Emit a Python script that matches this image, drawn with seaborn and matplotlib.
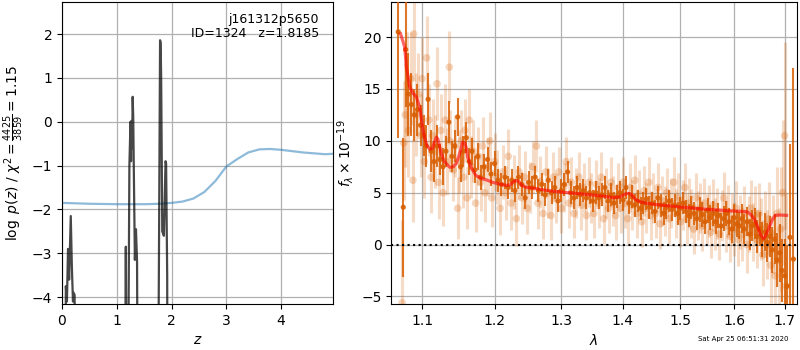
import numpy as np
import pandas as pd
import matplotlib
matplotlib.use("Agg")
import matplotlib.pyplot as plt
import matplotlib.ticker as mticker
import seaborn as sns

# ---------------- data: left panel ----------------
z_grid = [0.00, 0.06, 0.07, 0.09, 0.11, 0.13, 0.16, 0.18, 0.20, 0.21, 0.23, 0.25,
          1.14, 1.165, 1.19, 1.23, 1.25, 1.26, 1.27, 1.28, 1.29, 1.30, 1.31, 1.33, 1.35,
          1.37, 1.39, 1.74, 1.77, 1.79, 1.80, 1.81, 1.83, 1.86, 1.89, 1.90, 1.92, 1.93, 4.95]
log_pz = [-10, -10, -3.75, -4.1, -2.9, -3.6, -2.15, -3.3, -4.1, -3.9, -3.95, -10,
          -10, -2.85, -10, -1.0, 0.0, -0.9, 0.02, -0.6, 0.57, 0.1, -1.0, -3.15, -2.45,
          -3.2, -10, -10, -3.0, 1.86, 1.8, 1.0, -2.5, -2.6, -0.9, -0.95, -3.5, -10, -10]

chi2_z = [0.0, 0.5, 1.0, 1.5, 1.8, 2.0, 2.2, 2.4, 2.6, 2.8, 3.0, 3.2, 3.4, 3.6, 3.8,
          4.0, 4.2, 4.4, 4.6, 4.8, 4.95]
chi2_curve = [-1.85, -1.87, -1.88, -1.88, -1.87, -1.85, -1.82, -1.75, -1.6, -1.35, -1.02,
              -0.85, -0.7, -0.63, -0.62, -0.64, -0.67, -0.7, -0.72, -0.74, -0.73]

# ---------------- data: right panel ----------------
dark_wave = [1.069, 1.0755, 1.0786, 1.082, 1.086, 1.090, 1.094, 1.098, 1.102, 1.105, 1.108,
             1.112, 1.116, 1.120, 1.124, 1.128, 1.132, 1.136, 1.140, 1.144, 1.148, 1.152,
             1.156, 1.160, 1.164, 1.168, 1.172, 1.176, 1.180, 1.185, 1.190, 1.195, 1.200,
             1.205, 1.210, 1.215, 1.220, 1.225, 1.230, 1.235, 1.240, 1.245, 1.250, 1.255,
             1.260, 1.265, 1.270, 1.275, 1.280, 1.285, 1.290, 1.295, 1.300, 1.305, 1.310,
             1.315, 1.320, 1.325, 1.330, 1.335, 1.340, 1.345, 1.350, 1.355, 1.360, 1.365,
             1.370, 1.375, 1.380, 1.385, 1.390, 1.395, 1.400, 1.405, 1.410, 1.415, 1.420,
             1.425, 1.430, 1.435, 1.440, 1.445, 1.450, 1.455, 1.460, 1.465, 1.470, 1.475,
             1.480, 1.485, 1.490, 1.495, 1.500, 1.505, 1.510, 1.515, 1.520, 1.525, 1.530,
             1.535, 1.540, 1.545, 1.550, 1.555, 1.560, 1.565, 1.570, 1.575, 1.580, 1.585,
             1.590, 1.595, 1.600, 1.605, 1.610, 1.615, 1.620, 1.625, 1.630, 1.635, 1.640,
             1.645, 1.650, 1.655, 1.660, 1.665, 1.670, 1.675, 1.680, 1.685, 1.690, 1.695,
             1.700, 1.705, 1.711, 1.718]
dark_flux = [20.5, 3.6, 18.8, 14.5, 13.5, 12.5, 13.0, 11.5, 10.5, 9.5, 14.0,
             9.0, 8.0, 9.5, 8.2, 7.5, 9.0, 11.8, 8.5, 9.5, 12.3, 7.5,
             9.0, 10.3, 8.0, 9.0, 7.2, 8.5, 6.5, 7.5, 8.2, 6.8, 7.8,
             6.2, 5.8, 6.5, 5.5, 6.2, 5.2, 6.5, 5.8, 4.5, 6.0, 5.5,
             6.5, 5.2, 5.8, 4.8, 6.2, 5.0, 5.5, 4.2, 5.2, 5.8, 7.0,
             5.0, 4.5, 5.5, 4.8, 5.2, 4.5, 5.0, 4.2, 5.0, 4.5, 4.8,
             5.5, 4.2, 4.8, 4.0, 4.6, 5.0, 4.3, 5.5, 4.0, 4.6, 3.8,
             4.2, 3.5, 4.0, 4.4, 3.6, 4.0, 3.2, 4.5, 3.8, 3.0, 3.6,
             4.2, 3.4, 3.8, 3.0, 3.5, 4.0, 3.2, 2.8, 3.6, 3.0, 2.5,
             3.4, 2.9, 2.2, 3.3, 2.6, 3.0, 2.2, 2.8, 1.8, 2.5, 3.0,
             2.2, 1.5, 2.6, 2.0, 1.8, 2.5, 1.5, 2.2, 1.0, 1.8, 2.0,
             0.8, 1.5, 0.5, 1.2, 0.2, 0.8, -0.5, 0.5, -1.5, -0.8, -2.5,
             -3.0, -4.0, 0.7, -1.4]
dark_err = [10.2, 6.7, 5.5, 4.0, 3.0, 2.5, 2.5, 2.0, 2.0, 2.0, 2.5,
            2.0, 2.0, 2.0, 1.5, 1.8, 1.5, 2.0, 1.5, 1.5, 1.8, 1.5,
            1.5, 1.5, 1.3, 1.3, 1.3, 1.3, 1.2, 1.2, 1.2, 1.2, 1.2,
            1.1, 1.1, 1.1, 1.1, 1.1, 1.1, 1.1, 1.1, 1.1, 1.1, 1.1,
            1.1, 1.1, 1.1, 1.1, 1.1, 1.1, 1.1, 1.1, 1.1, 1.1, 1.1,
            1.1, 1.1, 1.1, 1.1, 1.1, 1.1, 1.1, 1.1, 1.1, 1.1, 1.1,
            1.1, 1.1, 1.1, 1.1, 1.1, 1.1, 1.1, 1.1, 1.1, 1.1, 1.1,
            1.1, 1.1, 1.1, 1.1, 1.1, 1.1, 1.1, 1.1, 1.1, 1.1, 1.1,
            1.1, 1.1, 1.1, 1.1, 1.1, 1.1, 1.1, 1.1, 1.1, 1.1, 1.1,
            1.2, 1.2, 1.2, 1.2, 1.2, 1.2, 1.2, 1.2, 1.2, 1.2, 1.2,
            1.3, 1.3, 1.3, 1.3, 1.3, 1.4, 1.4, 1.4, 1.5, 1.5, 1.5,
            1.6, 1.6, 1.7, 1.8, 1.9, 2.0, 2.2, 2.4, 2.6, 2.8, 3.0,
            3.5, 4.0, 9.0, 18.4]

light_wave = [1.074, 1.076, 1.078, 1.080, 1.082, 1.085, 1.088, 1.089, 1.092, 1.095, 1.098,
              1.100, 1.103, 1.106, 1.109, 1.112, 1.114, 1.117, 1.120, 1.122, 1.125, 1.128,
              1.131, 1.134, 1.137, 1.1366, 1.142, 1.145, 1.148, 1.150, 1.153, 1.156, 1.158,
              1.161, 1.164, 1.167, 1.170, 1.173, 1.176, 1.180, 1.183, 1.186, 1.190, 1.193,
              1.196, 1.200, 1.204, 1.208, 1.212, 1.216, 1.220, 1.224, 1.228, 1.232, 1.236,
              1.240, 1.244, 1.248, 1.252, 1.256, 1.262, 1.264, 1.268, 1.272, 1.276, 1.280,
              1.284, 1.288, 1.292, 1.296, 1.300, 1.304, 1.308, 1.312, 1.316, 1.320, 1.324,
              1.328, 1.332, 1.336, 1.340, 1.344, 1.348, 1.352, 1.356, 1.360, 1.364, 1.368,
              1.372, 1.376, 1.380, 1.384, 1.388, 1.392, 1.396, 1.400, 1.404, 1.408, 1.412,
              1.416, 1.420, 1.424, 1.428, 1.432, 1.436, 1.440, 1.444, 1.448, 1.452, 1.456,
              1.460, 1.464, 1.468, 1.472, 1.476, 1.480, 1.484, 1.488, 1.492, 1.496, 1.500,
              1.504, 1.508, 1.512, 1.516, 1.520, 1.524, 1.528, 1.532, 1.536, 1.540, 1.544,
              1.548, 1.552, 1.556, 1.560, 1.564, 1.568, 1.572, 1.576, 1.580, 1.584, 1.588,
              1.592, 1.596, 1.600, 1.604, 1.608, 1.612, 1.616, 1.620, 1.624, 1.628, 1.632,
              1.636, 1.640, 1.644, 1.648, 1.652, 1.656, 1.660, 1.664, 1.668, 1.672, 1.676,
              1.680, 1.684, 1.688, 1.692, 1.696, 1.700, 1.703]
light_flux = [-5.6, 9.8, 12.5, 15.5, 11.0, 16.0, 6.2, 20.3, 12.5, 14.5, 10.5,
              16.0, 8.0, 18.0, 12.0, 6.5, 10.5, 9.0, 15.5, 6.0, 11.0, 5.0,
              12.0, 8.0, 10.0, 17.1, 7.2, 9.5, 3.5, 8.0, 10.0, 6.5, 11.0,
              4.5, 12.0, 7.5, 9.0, 4.0, 8.5, 6.0, 9.5, 5.0, 7.5, 10.0,
              4.5, 8.0, 6.5, 3.5, 7.0, 5.0, 8.5, 4.0, 6.0, 2.5, 7.0,
              4.5, 6.5, 3.5, 5.5, 7.5, 9.5, 4.0, 6.0, 3.0, 7.0, 5.0,
              2.8, 6.5, 4.5, 7.0, 3.5, 5.5, 8.0, 4.0, 6.0, 3.0, 5.0,
              6.5, 3.8, 5.5, 2.8, 6.0, 4.5, 3.0, 5.8, 4.0, 6.5, 2.5,
              5.0, 3.5, 6.0, 4.2, 2.8, 5.5, 3.5, 6.0, 4.0, 2.5, 5.5,
              3.8, 6.2, 3.0, 4.8, 2.2, 5.2, 3.5, 6.0, 2.8, 4.5, 3.0,
              5.5, 2.0, 4.2, 3.2, 5.0, 2.5, 4.0, 6.0, 3.0, 4.5, 2.2,
              3.8, 5.5, 2.5, 4.0, 3.0, 1.5, 4.5, 2.8, 3.5, 1.8, 4.0,
              2.5, 3.2, 1.2, 3.8, 2.0, 3.0, 1.0, 2.8, 4.5, 1.8, 3.2,
              0.8, 2.5, 1.5, 3.5, 0.5, 2.2, 1.0, 3.0, 0.0, 2.0, 3.5,
              1.2, 2.8, 0.5, 3.0, 1.5, -1.0, 2.0, 0.0, 2.5, -2.0, 1.0,
              -3.0, 3.0, -1.5, 1.5, 5.0, 10.5, -4.0]
light_err = [8.0, 5.5, 5.0, 5.0, 4.5, 4.5, 4.0, 4.5, 4.0, 4.0, 4.0,
             4.0, 3.5, 4.0, 3.5, 3.5, 3.5, 3.5, 3.5, 3.5, 3.5, 3.2,
             3.5, 3.2, 3.0, 3.5, 3.0, 3.0, 3.0, 3.0, 3.0, 3.0, 3.0,
             3.0, 3.0, 3.0, 3.0, 2.8, 2.8, 2.8, 2.8, 2.8, 2.8, 2.8,
             2.8, 2.8, 2.6, 2.6, 2.6, 2.6, 2.6, 2.6, 2.6, 2.6, 2.6,
             2.5, 2.5, 2.5, 2.5, 2.5, 2.5, 2.5, 2.5, 2.5, 2.5, 2.4,
             2.4, 2.4, 2.4, 2.4, 2.4, 2.4, 2.4, 2.4, 2.4, 2.4, 2.4,
             2.4, 2.4, 2.4, 2.4, 2.4, 2.4, 2.4, 2.4, 2.4, 2.4, 2.4,
             2.4, 2.4, 2.4, 2.4, 2.4, 2.4, 2.4, 2.4, 2.4, 2.4, 2.4,
             2.4, 2.4, 2.4, 2.4, 2.4, 2.4, 2.4, 2.4, 2.4, 2.4, 2.4,
             2.4, 2.4, 2.4, 2.4, 2.4, 2.4, 2.4, 2.4, 2.4, 2.4, 2.4,
             2.4, 2.4, 2.4, 2.4, 2.4, 2.4, 2.4, 2.4, 2.4, 2.4, 2.4,
             2.4, 2.5, 2.5, 2.5, 2.5, 2.5, 2.5, 2.5, 2.5, 2.5, 2.5,
             2.5, 2.5, 2.6, 2.6, 2.6, 2.6, 2.6, 2.6, 2.7, 2.7, 2.7,
             2.8, 2.8, 2.8, 2.9, 3.0, 3.0, 3.2, 3.3, 3.5, 3.6, 3.8,
             4.0, 4.5, 5.0, 6.0, 7.0, 9.0, 9.0]

model_wave = [1.072, 1.075, 1.0774, 1.0795, 1.0838, 1.088, 1.0926, 1.097, 1.1013, 1.1035,
              1.1058, 1.108, 1.1102, 1.114, 1.117, 1.119, 1.121, 1.123, 1.1258, 1.130,
              1.137, 1.142, 1.146, 1.150, 1.155, 1.158, 1.160, 1.162, 1.167, 1.1735,
              1.180, 1.190, 1.197, 1.210, 1.2166, 1.222, 1.227, 1.231, 1.235, 1.240,
              1.246, 1.260, 1.280, 1.300, 1.330, 1.356, 1.370, 1.384, 1.395, 1.403,
              1.410, 1.415, 1.420, 1.430, 1.450, 1.500, 1.550, 1.600, 1.615, 1.626,
              1.632, 1.639, 1.645, 1.652, 1.658, 1.662, 1.669, 1.675, 1.681, 1.690,
              1.704]
model_flux = [20.3, 19.6, 19.0, 17.1, 15.2, 14.6, 14.2, 13.2, 11.0, 10.3,
              9.7, 9.4, 9.2, 9.3, 10.0, 10.35, 10.2, 9.6, 8.75, 8.0,
              7.46, 7.5, 7.8, 8.6, 9.87, 9.8, 9.3, 8.4, 7.4, 6.66,
              6.4, 6.2, 6.0, 5.8, 5.7, 5.75, 6.0, 6.18, 6.1, 5.7,
              5.54, 5.4, 5.2, 5.06, 4.9, 4.74, 4.65, 4.52, 4.6, 4.85,
              4.96, 4.8, 4.4, 4.1, 3.9, 3.62, 3.4, 3.23, 3.2, 3.14,
              2.9, 2.5, 1.8, 0.9, 0.58, 0.9, 1.7, 2.4, 2.82, 2.85,
              2.82]

title_lines = ["j161312p5650", "ID=1324   z=1.8185"]
timestamp = "Sat Apr 25 06:51:31 2020"
xticks_lam = [1.1, 1.2, 1.3, 1.4, 1.5, 1.6, 1.7]
yticks_flux = [-5, 0, 5, 10, 15, 20]
yticks_pz = [-4, -3, -2, -1, 0, 1, 2]
xticks_z = [0, 1, 2, 3, 4]

# ---------------- figure ----------------
plt.rcParams["font.family"] = ["DejaVu Sans"]
fig = plt.figure(figsize=(8, 3.5), dpi=100)
ax1 = fig.add_axes([0.0775, 0.131, 0.339, 0.863])
ax2 = fig.add_axes([0.489, 0.131, 0.507, 0.863])

orange = "#d95f02"

# left panel
pz_df = pd.DataFrame({"z": z_grid, "logp": log_pz})
chi_df = pd.DataFrame({"z": chi2_z, "chi": chi2_curve})
sns.lineplot(data=chi_df, x="z", y="chi", ax=ax1, color="#1f77b4", alpha=0.5,
             lw=1.6, sort=False, estimator=None)
sns.lineplot(data=pz_df, x="z", y="logp", ax=ax1, color="k", alpha=0.72,
             lw=1.6, sort=False, estimator=None)
ax1.set_xlim(0, 4.95)
ax1.set_ylim(-4.16, 2.73)
ax1.set_xticks(xticks_z)
ax1.set_yticks(yticks_pz)
ax1.grid(True, color="#b0b0b0", lw=0.9)
ax1.set_axisbelow(True)
ax1.set_xlabel("$z$")
ax1.set_ylabel(r"$\log\ p(z)$ / $\chi^2=\frac{4425}{3859}=1.15$")
ax1.text(0.948, 0.965, "\n".join(title_lines), transform=ax1.transAxes,
         ha="right", va="top", fontsize=9, linespacing=1.15)

# right panel
ax2.errorbar(light_wave, light_flux, yerr=light_err, fmt="none",
             ecolor=orange, alpha=0.22, elinewidth=2.2, zorder=2)
sns.scatterplot(x=light_wave, y=light_flux, ax=ax2, color=orange, alpha=0.25,
                s=30, edgecolor="none", zorder=2)
ax2.errorbar(dark_wave, dark_flux, yerr=dark_err, fmt="none",
             ecolor=orange, alpha=0.85, elinewidth=1.5, zorder=3)
sns.scatterplot(x=dark_wave, y=dark_flux, ax=ax2, color=orange, alpha=0.9,
                s=14, edgecolor="none", zorder=3)
ax2.axhline(0, color="k", ls=":", lw=1.5, zorder=4)
mod_df = pd.DataFrame({"w": model_wave, "f": model_flux})
sns.lineplot(data=mod_df, x="w", y="f", ax=ax2, color="red", alpha=0.6,
             lw=2.3, sort=False, estimator=None, zorder=5)

ax2.set_xscale("log")
ax2.set_xlim(1.06, 1.725)
ax2.set_ylim(-5.74, 23.37)
ax2.xaxis.set_major_locator(mticker.FixedLocator(xticks_lam))
ax2.xaxis.set_major_formatter(mticker.FixedFormatter([str(v) for v in xticks_lam]))
ax2.xaxis.set_minor_locator(mticker.NullLocator())
ax2.set_yticks(yticks_flux)
ax2.grid(True, color="#b0b0b0", lw=0.9)
ax2.set_axisbelow(True)
ax2.set_xlabel(r"$\lambda$")
ax2.set_ylabel(r"$f_\lambda\times10^{-19}$")

fig.text(0.985, 0.031, timestamp, ha="right", va="center", fontsize=5)

fig.savefig("out.png", dpi=100)
